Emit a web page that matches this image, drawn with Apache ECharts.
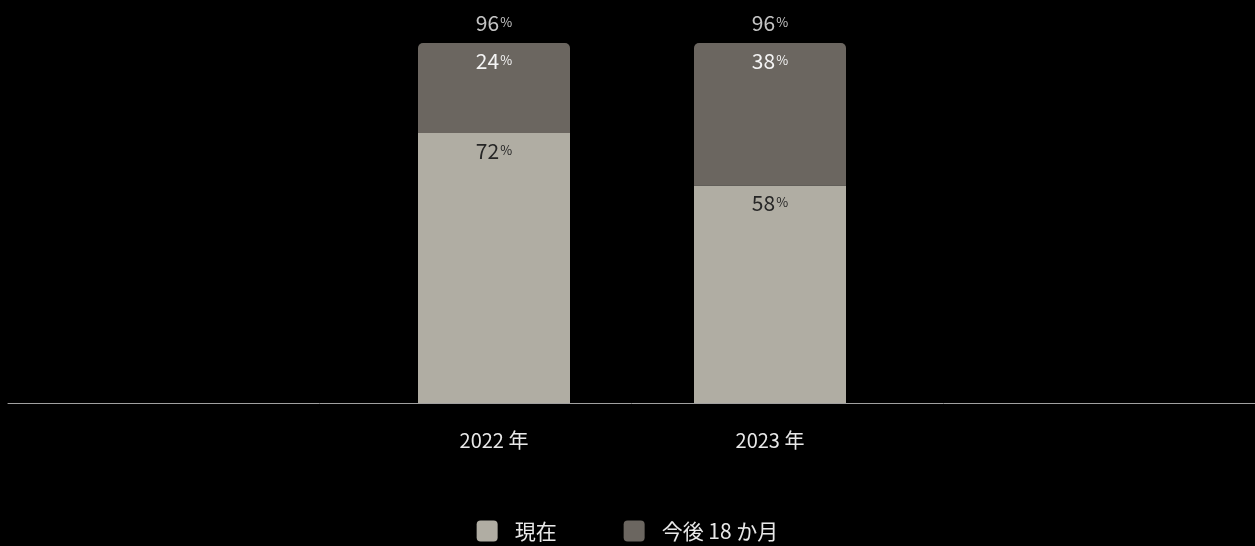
<!DOCTYPE html>
<html>
<head>
<meta charset="utf-8">
<script src="https://cdn.jsdelivr.net/npm/echarts@6/dist/echarts.min.js"></script>
<style>
  html, body { margin: 0; padding: 0; background: #000; }
  #chart { width: 1255px; height: 546px; }
</style>
</head>
<body>
<div id="chart"></div>
<script>
// Survey shares by year: now vs. within the next 18 months
const categories = ['2022 年', '2023 年'];
const seriesNames = ['現在', '今後 18 か月'];
const currentValues = [72, 58];
const futureValues = [24, 38];
const totalValues = [96, 96];

const FONT = '"Noto Sans CJK JP", "Noto Sans", sans-serif';
const COLOR_NOW = '#b0ada3';
const COLOR_NEXT = '#6b6660';

// number in large type followed by a smaller, centred percent sign
function pctRich(color) {
  return {
    n: { fontSize: 21, color: color, fontFamily: FONT, lineHeight: 24, verticalAlign: 'middle' },
    p: { fontSize: 13, color: color, fontFamily: FONT, lineHeight: 24, verticalAlign: 'middle', padding: [0, 0, 2, 1] }
  };
}
function pctFormatter(p) {
  return '{n|' + p.value + '}{p|%}';
}

const chart = echarts.init(document.getElementById('chart'));
chart.setOption({
  backgroundColor: '#000',
  animation: false,
  textStyle: { fontFamily: FONT },
  grid: [
    { left: 356, right: 347, top: 28, bottom: 143 },
    { left: 8, right: 0, top: 28, bottom: 143 }
  ],
  xAxis: [
    {
      type: 'category', gridIndex: 0, data: categories,
      axisLine: { show: false }, axisTick: { show: false },
      axisLabel: { color: '#e8e8e8', fontSize: 20, margin: 27, fontFamily: FONT }
    },
    {
      type: 'category', gridIndex: 1, data: [''],
      axisLine: { show: true, lineStyle: { color: '#a0a0a0', width: 1 } },
      axisTick: { show: false }, axisLabel: { show: false }
    }
  ],
  yAxis: [
    { type: 'value', gridIndex: 0, min: 0, max: 100, show: false, splitLine: { show: false } },
    { type: 'value', gridIndex: 1, min: 0, max: 100, show: false, splitLine: { show: false } }
  ],
  legend: {
    bottom: 4,
    padding: 0,
    left: 'center',
    itemWidth: 21,
    itemHeight: 21,
    itemGap: 67,
    icon: 'path://M4,0 H17 A4,4 0 0 1 21,4 V17 A4,4 0 0 1 17,21 H4 A4,4 0 0 1 0,17 V4 A4,4 0 0 1 4,0 Z',
    textStyle: { color: '#e8e8e8', fontSize: 21, lineHeight: 22, fontFamily: FONT, padding: [0, 0, 0, 12] },
    data: seriesNames
  },
  series: [
    {
      name: seriesNames[0], type: 'bar', stack: 'total', barWidth: 152,
      data: currentValues,
      itemStyle: { color: COLOR_NOW },
      label: {
        show: true, position: 'insideTop', distance: 6,
        formatter: pctFormatter, rich: pctRich('#262626')
      }
    },
    {
      name: seriesNames[1], type: 'bar', stack: 'total', barWidth: 152,
      data: futureValues,
      itemStyle: { color: COLOR_NEXT, borderRadius: [5, 5, 0, 0] },
      label: {
        show: true, position: 'insideTop', distance: 6,
        formatter: pctFormatter, rich: pctRich('#f4f4f4')
      }
    },
    {
      name: 'total', type: 'scatter', data: totalValues,
      symbolSize: 0, silent: true,
      label: {
        show: true, position: 'top', distance: 8,
        formatter: pctFormatter, rich: pctRich('#f4f4f4')
      }
    }
  ]
});
</script>
</body>
</html>
